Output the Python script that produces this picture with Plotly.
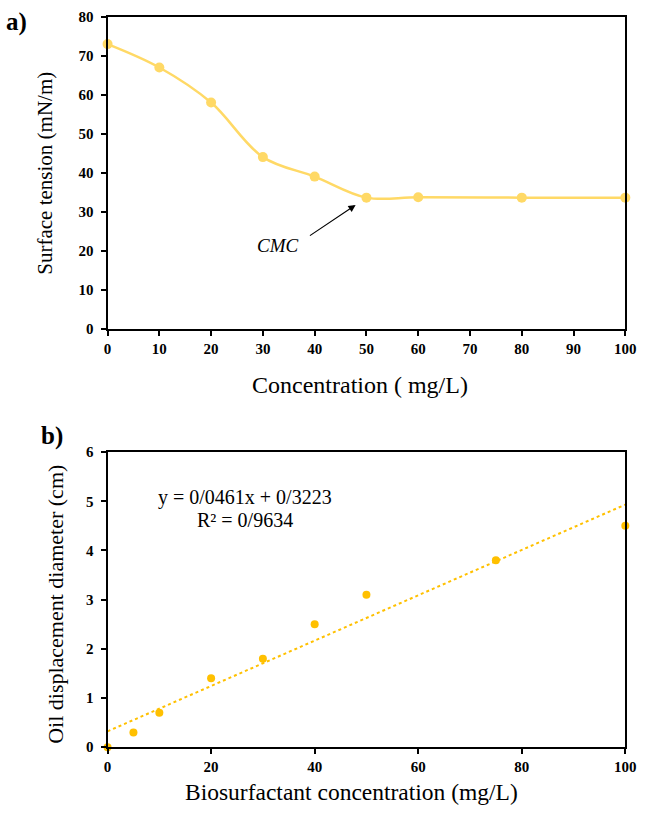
import plotly.graph_objects as go
import numpy as np

# ---- data ----
conc_a = [0, 10, 20, 30, 40, 50, 60, 80, 100]
tension_a = [73, 67, 58, 44, 39, 33.6, 33.7, 33.6, 33.6]

conc_b = [0, 5, 10, 20, 30, 40, 50, 75, 100]
diam_b = [0, 0.3, 0.7, 1.4, 1.8, 2.5, 3.1, 3.8, 4.5]
trend_slope = 0.0461
trend_intercept = 0.3223
trend_x = [0, 100]

xticks_a = list(range(0, 101, 10))
yticks_a = list(range(0, 81, 10))
xticks_b = list(range(0, 101, 20))
yticks_b = list(range(0, 7, 1))

W, H = 650, 814
def px(x):
    return x / W
def py(y):
    return 1 - y / H

FONT = "Liberation Serif"
GOLD_A = "#FFD966"
GOLD_B = "#FFC000"

fig = go.Figure()

fig.add_trace(go.Scatter(
    x=conc_a, y=tension_a, mode="lines+markers",
    line=dict(color=GOLD_A, width=2.5, shape="spline", smoothing=1.0),
    marker=dict(color=GOLD_A, size=10),
    cliponaxis=False, xaxis="x", yaxis="y", showlegend=False))

trend_y = [trend_slope * v + trend_intercept for v in trend_x]
fig.add_trace(go.Scatter(
    x=trend_x, y=trend_y, mode="lines",
    line=dict(color=GOLD_B, width=2, dash="dot"),
    xaxis="x2", yaxis="y2", showlegend=False))
fig.add_trace(go.Scatter(
    x=conc_b, y=diam_b, mode="markers",
    marker=dict(color=GOLD_B, size=8),
    cliponaxis=False, xaxis="x2", yaxis="y2", showlegend=False))

axis_common = dict(
    showgrid=False, zeroline=False, showline=True, linecolor="black",
    linewidth=2, mirror=True, ticks="outside", ticklen=5, tickwidth=2,
    tickcolor="black",
    tickfont=dict(family=FONT, size=15, color="black", weight="bold"),
)

fig.update_layout(
    width=W, height=H,
    margin=dict(l=0, r=0, t=0, b=0),
    paper_bgcolor="white", plot_bgcolor="white",
    xaxis=dict(domain=[px(106), px(636)], anchor="y", range=[0, 100],
               tickvals=xticks_a, **axis_common),
    yaxis=dict(domain=[py(327), py(9)], anchor="x", range=[0, 80],
               tickvals=yticks_a, ticklabelstandoff=4, **axis_common),
    xaxis2=dict(domain=[px(106), px(636)], anchor="y2", range=[0, 100],
                tickvals=xticks_b, **axis_common),
    yaxis2=dict(domain=[py(754), py(453)], anchor="x2", range=[0, 6],
                tickvals=yticks_b, ticklabelstandoff=4, **axis_common),
)

def ann(text, x, y, size, rot=0, bold=False, italic=False, xanchor="center"):
    fig.add_annotation(
        text=text, x=px(x), y=py(y), xref="paper", yref="paper",
        showarrow=False, textangle=rot, xanchor=xanchor, yanchor="middle",
        font=dict(family=FONT, size=size, color="black",
                  weight="bold" if bold else "normal",
                  style="italic" if italic else "normal"))

ann("Concentration ( mg/L)", 364, 385, 24)
ann("Surface tension (mN/m)", 42, 169, 21, rot=-90)
ann("Biosurfactant concentration (mg/L)", 356, 800, 23.5)
ann("Oil displacement diameter (cm)", 52, 608, 22, rot=-90)
ann("a)", 0, 14, 25, bold=True, xanchor="left")
ann("b)", 36, 437, 25, bold=True, xanchor="left")
ann("y = 0/0461x + 0/3223", 247, 499, 20)
ann("R² = 0/9634", 247, 522, 20)
ann("CMC", 280, 242, 19, italic=True)

fig.add_annotation(
    x=conc_a[5], y=tension_a[5], xref="x", yref="y",
    ax=-58, ay=39, axref="pixel", ayref="pixel",
    showarrow=True, arrowhead=2, arrowsize=1.2, arrowwidth=1.2,
    arrowcolor="black", standoff=13, text="")

css = ("var s=document.createElement('style');"
       "s.textContent='html,body{margin:0;padding:0;overflow:hidden;}';"
       "document.head.appendChild(s);")
fig.write_html("out.html", config={"displayModeBar": False},
               post_script=css)
